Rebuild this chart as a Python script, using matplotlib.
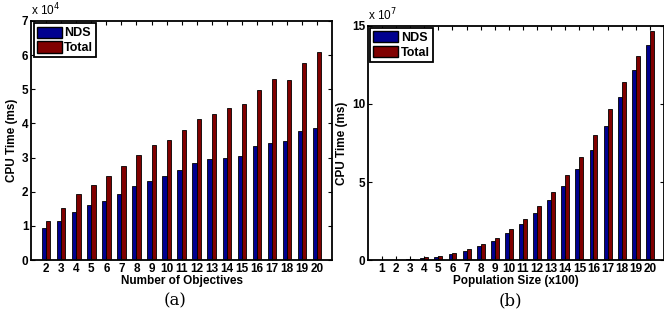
import matplotlib
matplotlib.use("Agg")
import matplotlib.pyplot as plt
from matplotlib.ticker import FuncFormatter
from matplotlib.patches import Patch
import numpy as np

# (a) CPU time vs number of objectives (ms)
objectives = list(range(2, 21))
nds_a = [0.93e4, 1.15e4, 1.40e4, 1.61e4, 1.73e4, 1.93e4, 2.17e4, 2.30e4, 2.45e4, 2.65e4,
         2.84e4, 2.96e4, 2.99e4, 3.05e4, 3.34e4, 3.43e4, 3.50e4, 3.78e4, 3.87e4]
total_a = [1.14e4, 1.53e4, 1.92e4, 2.20e4, 2.46e4, 2.75e4, 3.09e4, 3.37e4, 3.51e4, 3.82e4,
           4.12e4, 4.28e4, 4.44e4, 4.56e4, 4.97e4, 5.31e4, 5.27e4, 5.78e4, 6.10e4]

# (b) CPU time vs population size (x100) (ms)
popsize = list(range(1, 21))
nds_b = [0.005e7, 0.02e7, 0.06e7, 0.15e7, 0.24e7, 0.38e7, 0.62e7, 0.90e7, 1.26e7, 1.76e7,
         2.30e7, 3.05e7, 3.84e7, 4.78e7, 5.82e7, 7.06e7, 8.61e7, 10.45e7, 12.15e7, 13.77e7]
total_b = [0.01e7, 0.03e7, 0.08e7, 0.19e7, 0.30e7, 0.47e7, 0.73e7, 1.03e7, 1.45e7, 1.99e7,
           2.64e7, 3.45e7, 4.37e7, 5.46e7, 6.63e7, 8.02e7, 9.64e7, 11.39e7, 13.07e7, 14.65e7]

blue = "#00008f"
red = "#800000"
font = "Liberation Sans"

fig = plt.figure(figsize=(6.64, 3.23), dpi=100)
ax1 = fig.add_axes([0.047, 0.195, 0.453, 0.740])
ax2 = fig.add_axes([0.554, 0.194, 0.446, 0.727])


def draw(ax, x, nds, total, xlabel, xlim, ylim, yticks, power, caption, cx):
    x = np.array(x)
    w = 0.28
    ax.bar(x - w / 2, nds, w, color=blue, edgecolor="black", linewidth=0.6)
    ax.bar(x + w / 2, total, w, color=red, edgecolor="black", linewidth=0.6)
    ax.set_xlim(*xlim)
    ax.set_ylim(*ylim)
    ax.set_xticks(x)
    ax.set_yticks(yticks)
    scale = 10 ** power
    ax.yaxis.set_major_formatter(FuncFormatter(lambda v, p: "%g" % (v / scale)))
    ax.tick_params(direction="in", top=True, right=True, length=3, width=0.8,
                   labelsize=8.5, pad=2)
    for lab in ax.get_xticklabels() + ax.get_yticklabels():
        lab.set_fontweight("bold")
        lab.set_fontfamily(font)
    for s in ax.spines.values():
        s.set_linewidth(1.3)
    ax.set_xlabel(xlabel, fontsize=8.5, fontweight="bold", family=font, labelpad=0)
    ax.set_ylabel("CPU Time (ms)", fontsize=8.5, fontweight="bold", family=font, labelpad=3)
    ax.text(0.0, 1.01, "x 10$^{%d}$" % power, transform=ax.transAxes, fontsize=8.5,
            family=font, va="bottom", ha="left")
    handles = [Patch(facecolor=blue, edgecolor="black", label="NDS"),
               Patch(facecolor=red, edgecolor="black", label="Total")]
    leg = ax.legend(handles=handles, loc="upper left", fancybox=False, framealpha=1,
                    edgecolor="black", borderaxespad=0.2, borderpad=0.25,
                    handlelength=2.0, handleheight=1.0, handletextpad=0.2,
                    labelspacing=0.15, prop={"family": font, "weight": "bold", "size": 9})
    leg.get_frame().set_linewidth(1.3)
    fig.text(cx, 0.07, caption, ha="center", va="center", family="DejaVu Serif",
             fontsize=12)


draw(ax1, objectives, nds_a, total_a, "Number of Objectives", (1, 21), (0, 7e4),
     np.arange(0, 8) * 1e4, 4, "(a)", 0.263)
draw(ax2, popsize, nds_b, total_b, "Population Size (x100)", (0, 21), (0, 15e7),
     [0, 5e7, 10e7, 15e7], 7, "(b)", 0.768)

fig.savefig("out.png", dpi=100)
